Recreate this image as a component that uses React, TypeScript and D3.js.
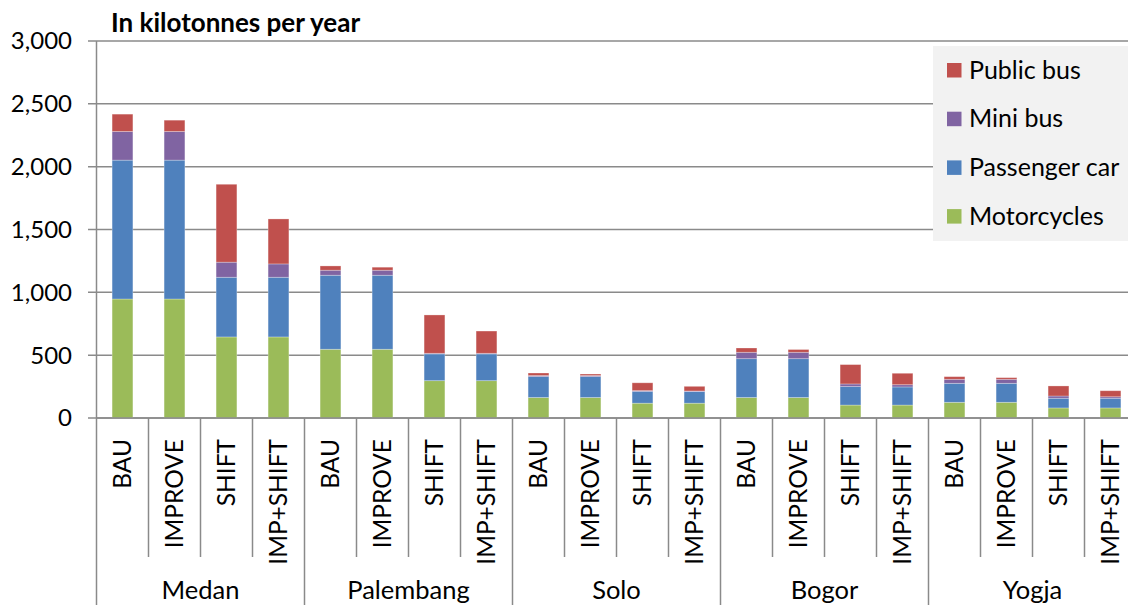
import React from "react";
import * as d3 from "d3";

const cities = ["Medan", "Palembang", "Solo", "Bogor", "Yogja"];
const scenarios = ["BAU", "IMPROVE", "SHIFT", "IMP+SHIFT"];
const seriesNames = ["Motorcycles", "Passenger car", "Mini bus", "Public bus"];
const seriesColors = ["#9BBB59", "#4F81BD", "#8064A2", "#C0504D"];

const motorcycles = [947, 947, 645, 645, 547, 547, 297, 297, 163, 163, 118, 118, 163, 163, 103, 103, 125, 125, 80, 80];
const passengerCar = [1105, 1105, 475, 475, 589, 589, 213, 213, 167, 167, 94, 92, 309, 309, 147, 144, 151, 151, 77, 77];
const miniBus = [228, 228, 120, 106, 40, 40, 5, 5, 8, 8, 6, 5, 51, 51, 21, 18, 32, 32, 18, 12];
const publicBus = [138, 90, 620, 358, 34, 24, 305, 177, 20, 12, 62, 37, 34, 22, 154, 91, 21, 13, 80, 48];

const yTicks = [0, 500, 1000, 1500, 2000, 2500, 3000];

const W = 1128;
const H = 605;
const FONT = "Lato, 'Open Sans', sans-serif";

export default function App() {
  const left = 96.5;
  const step = 52;
  const n = cities.length * scenarios.length;
  const keys = d3.range(n).map((i) => `${cities[Math.floor(i / 4)]}|${scenarios[i % 4]}`);
  const x = d3
    .scaleBand<string>()
    .domain(keys)
    .range([left, left + n * step])
    .paddingInner(0.6)
    .paddingOuter(0.3);
  const y = d3.scaleLinear().domain([0, 3000]).range([418, 41]);

  const rows = keys.map((k, i) => ({
    key: k,
    Motorcycles: motorcycles[i],
    "Passenger car": passengerCar[i],
    "Mini bus": miniBus[i],
    "Public bus": publicBus[i],
  }));
  const stack = d3.stack<any>().keys(seriesNames)(rows);
  const fmt = d3.format(",");

  const legendItems = [...seriesNames].reverse();

  return (
    <svg width={W} height={H} style={{ position: "absolute", left: 0, top: 0, background: "#fff" }} fontFamily={FONT}>
      {/* gridlines */}
      {yTicks.map((t) => (
        <g key={t}>
          <line x1={88} x2={W} y1={y(t)} y2={y(t)} stroke="#8a8a8a" strokeWidth={1.5} />
          <text x={72} y={y(t)} dy="0.35em" textAnchor="end" fontSize={24} fill="#000">
            {fmt(t)}
          </text>
        </g>
      ))}
      {/* y axis */}
      <line x1={left} x2={left} y1={y(3000)} y2={418} stroke="#8a8a8a" strokeWidth={1.5} />
      {/* bars */}
      {stack.map((s, si) => (
        <g key={s.key} fill={seriesColors[si]}>
          {s.map((d, i) => (
            <rect
              key={i}
              x={x(keys[i])}
              width={x.bandwidth()}
              y={y(d[1])}
              height={Math.max(0, y(d[0]) - y(d[1]))}
              stroke="#ffffff"
              strokeOpacity={0.35}
              strokeWidth={0.8}
            />
          ))}
        </g>
      ))}
      {/* x axis line */}
      <line x1={left} x2={W} y1={418} y2={418} stroke="#8a8a8a" strokeWidth={1.5} />
      {/* separators */}
      {d3.range(n + 1).map((i) => (
        <line
          key={i}
          x1={left + i * step}
          x2={left + i * step}
          y1={418}
          y2={i % 4 === 0 ? H : 557}
          stroke="#8a8a8a"
          strokeWidth={1.5}
        />
      ))}
      {/* scenario labels */}
      {keys.map((k, i) => {
        const cx = (x(k) as number) + x.bandwidth() / 2;
        return (
          <text
            key={k}
            transform={`translate(${cx},439) rotate(-90)`}
            textAnchor="end"
            dy="0.35em"
            fontSize={24.5}
            fill="#000"
          >
            {scenarios[i % 4]}
          </text>
        );
      })}
      {/* city labels */}
      {cities.map((c, ci) => (
        <text key={c} x={left + (ci * 4 + 2) * step} y={599} textAnchor="middle" fontSize={25.5} fill="#000">
          {c}
        </text>
      ))}
      {/* title */}
      <text x={111} y={32} fontSize={26} fontWeight="bold" fill="#000">
        In kilotonnes per year
      </text>
      {/* legend */}
      <rect x={933} y={46} width={W - 933} height={195} fill="#f2f2f2" />
      {legendItems.map((name, i) => {
        const cy = 70 + i * 48.7;
        const col = seriesColors[seriesNames.indexOf(name)];
        return (
          <g key={name}>
            <rect x={947} y={cy - 7} width={14.5} height={14.5} fill={col} />
            <text x={969} y={cy} dy="0.35em" fontSize={25} fill="#000">
              {name}
            </text>
          </g>
        );
      })}
    </svg>
  );
}
